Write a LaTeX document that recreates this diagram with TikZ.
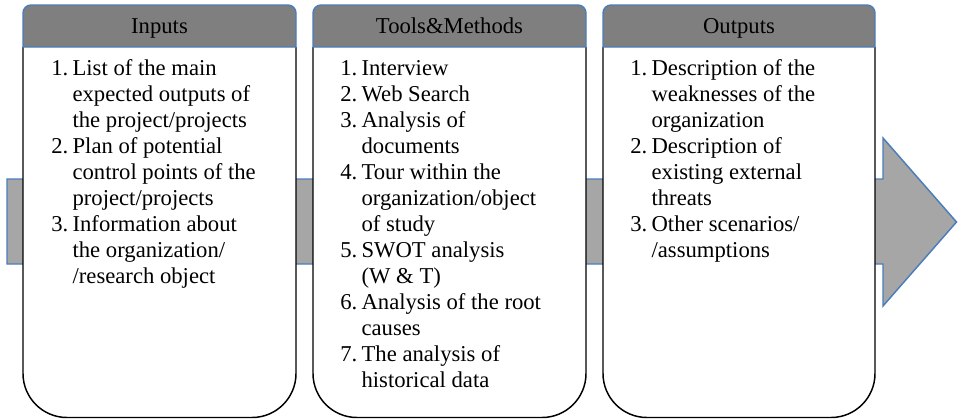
\documentclass[tikz,border=0pt]{standalone}
\usepackage{fontspec}
\setmainfont{Liberation Serif}
\definecolor{hdrgray}{HTML}{7F7F7F}
\definecolor{arrgray}{HTML}{A6A6A6}
\definecolor{edgeblue}{HTML}{4A7EBB}
\newcommand{\itm}[2]{\makebox[16pt][l]{#1}#2}
\newcommand{\cnt}[1]{\hspace*{16pt}#1}
\begin{document}
\begin{tikzpicture}[x=0.75pt,y=-0.75pt,
  hdr/.style={draw=edgeblue,fill=hdrgray,line width=1.1pt},
  body/.style={draw=black,fill=white,line width=1.1pt,rounded corners=33pt},
  bigarrow/.style={draw=edgeblue,fill=arrgray,line width=1.1pt},
  htext/.style={anchor=base,inner sep=0pt,font=\fontsize{17}{19.5}\selectfont},
  btext/.style={anchor=base west,inner sep=0pt}]
\useasboundingbox (0,0) rectangle (958,419);
% big arrow
\draw[bigarrow] (7,179) -- (883,179) -- (883,138) -- (956.5,222) -- (883,306) -- (883,264) -- (7,264) -- cycle;
% boxes
\foreach \l/\r in {23/296,313/586,603/875}{
  \draw[body] (\l,47) -- (\l,417.5) -- (\r,417.5) -- (\r,47);
  \draw[hdr] (\l,47) [rounded corners=6pt] -- (\l,5) -- (\r,5) [sharp corners] -- (\r,47) -- cycle;
}
\node[htext] (h1) at (159.5,33) {Inputs};
\node[htext] (h2) at (449.5,33) {Tools\&Methods};
\node[htext] (h3) at (739,33) {Outputs};
\node[btext] (b1) at (51,75) {\parbox[t]{240pt}{\fontsize{17}{19.5}\selectfont\raggedright
\itm{1.}{List of the main}\\
\cnt{expected outputs of}\\
\cnt{the project/projects}\\
\itm{2.}{Plan of potential}\\
\cnt{control points of the}\\
\cnt{project/projects}\\
\itm{3.}{Information about}\\
\cnt{the organization/}\\
\cnt{/research object}}};
\node[btext] (b2) at (340,75) {\parbox[t]{240pt}{\fontsize{17}{19.5}\selectfont\raggedright
\itm{1.}{Interview}\\
\itm{2.}{Web Search}\\
\itm{3.}{Analysis of}\\
\cnt{documents}\\
\itm{4.}{Tour within the}\\
\cnt{organization/object}\\
\cnt{of study}\\
\itm{5.}{SWOT analysis}\\
\cnt{(W \& T)}\\
\itm{6.}{Analysis of the root}\\
\cnt{causes}\\
\itm{7.}{The analysis of}\\
\cnt{historical data}}};
\node[btext] (b3) at (630,75) {\parbox[t]{240pt}{\fontsize{17}{19.5}\selectfont\raggedright
\itm{1.}{Description of the}\\
\cnt{weaknesses of the}\\
\cnt{organization}\\
\itm{2.}{Description of}\\
\cnt{existing external}\\
\cnt{threats}\\
\itm{3.}{Other scenarios/}\\
\cnt{/assumptions}}};
\end{tikzpicture}
\end{document}
